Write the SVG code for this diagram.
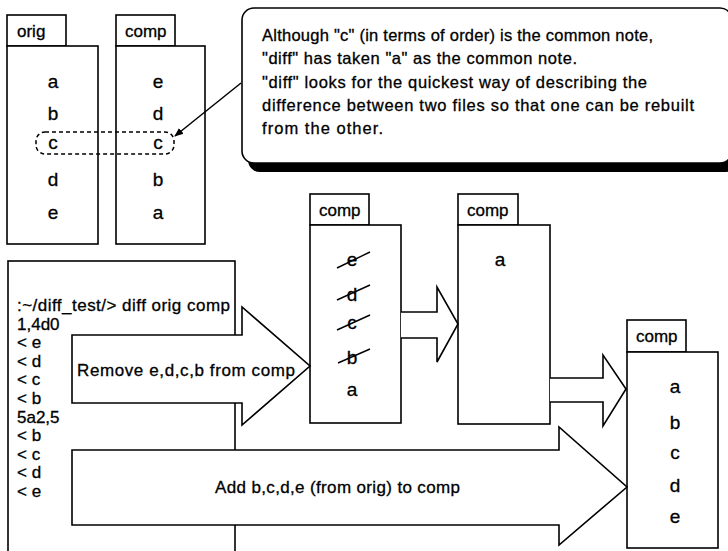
<svg xmlns="http://www.w3.org/2000/svg" width="728" height="551" viewBox="0 0 728 551">
<style>
.box{fill:#fff;stroke:#000;stroke-width:1.6}
.t{font-family:"Liberation Sans",Arial,sans-serif;fill:#000;stroke:#000;stroke-width:0.3}
.tab{font-size:17px}
.let{font-size:19px;text-anchor:middle}
.txt{font-size:17px}
.co{font-size:16.5px}
.strike{stroke:#000;stroke-width:1.4;fill:none}
.arr{fill:#fff;stroke:#000;stroke-width:1.6;stroke-linejoin:miter}
</style>
<defs>
<marker id="ah" viewBox="0 0 10 10" refX="9" refY="5" markerWidth="9" markerHeight="9" orient="auto" markerUnits="userSpaceOnUse">
<path d="M0,1 L10,5 L0,9 z" fill="#000"/>
</marker>
</defs>
<rect width="728" height="551" fill="#fff"/>

<g id="orig">
<rect class="box" x="7" y="15" width="59" height="31"/>
<rect class="box" x="7" y="46" width="91" height="198"/>
<text class="t tab" x="17" y="37">orig</text>
<text class="t let" x="53" y="88">a</text>
<text class="t let" x="53" y="120">b</text>
<text class="t let" x="53" y="149">c</text>
<text class="t let" x="53" y="186">d</text>
<text class="t let" x="53" y="219">e</text>
</g>

<g id="comp1">
<rect class="box" x="116" y="15" width="59" height="31"/>
<rect class="box" x="116" y="46" width="89" height="198"/>
<text class="t tab" x="125" y="37">comp</text>
<text class="t let" x="158" y="88">e</text>
<text class="t let" x="158" y="120">d</text>
<text class="t let" x="158" y="149">c</text>
<text class="t let" x="158" y="186">b</text>
<text class="t let" x="158" y="219">a</text>
</g>

<g id="common-c">
<rect x="36" y="132" width="138" height="22" rx="9" fill="none" stroke="#000" stroke-width="1.5" stroke-dasharray="4,3"/>
</g>

<g id="callout">
<rect x="248" y="16" width="490" height="156" rx="12" fill="#000"/>
<rect class="box" x="242" y="8" width="490" height="155" rx="12"/>
<text class="t co" x="262" y="41" textLength="391" lengthAdjust="spacing">Although "c" (in terms of order) is the common note,</text>
<text class="t co" x="262" y="64" textLength="315" lengthAdjust="spacing">"diff" has taken "a" as the common note.</text>
<text class="t co" x="262" y="88" textLength="385" lengthAdjust="spacing">"diff" looks for the quickest way of describing the</text>
<text class="t co" x="262" y="111" textLength="432" lengthAdjust="spacing">difference between two files so that one can be rebuilt</text>
<text class="t co" x="262" y="134" textLength="121" lengthAdjust="spacing">from the other.</text>
</g>

<g id="terminal">
<rect class="box" x="8" y="261" width="227" height="300"/>
<text class="t txt" x="17" y="311" textLength="213" lengthAdjust="spacing">:~/diff_test/&gt; diff orig comp</text>
<text class="t txt" x="17" y="329.6">1,4d0</text>
<text class="t txt" x="17" y="348.2">&lt; e</text>
<text class="t txt" x="17" y="366.8">&lt; d</text>
<text class="t txt" x="17" y="385.4">&lt; c</text>
<text class="t txt" x="17" y="404">&lt; b</text>
<text class="t txt" x="17" y="422.6">5a2,5</text>
<text class="t txt" x="17" y="441.2">&lt; b</text>
<text class="t txt" x="17" y="459.8">&lt; c</text>
<text class="t txt" x="17" y="478.4">&lt; d</text>
<text class="t txt" x="17" y="497">&lt; e</text>
</g>

<g id="comp2">
<rect class="box" x="310" y="194" width="59" height="31"/>
<rect class="box" x="310" y="225" width="91" height="198"/>
<text class="t tab" x="319" y="216">comp</text>
<text class="t let" x="352" y="266">e</text>
<text class="t let" x="352" y="301">d</text>
<text class="t let" x="352" y="329">c</text>
<text class="t let" x="352" y="364">b</text>
<text class="t let" x="352" y="396">a</text>
<line class="strike" x1="337" y1="268" x2="370" y2="252"/>
<line class="strike" x1="337" y1="300" x2="370" y2="285"/>
<line class="strike" x1="337" y1="330" x2="370" y2="315"/>
<line class="strike" x1="338" y1="363" x2="370" y2="349"/>
</g>

<g id="comp3">
<rect class="box" x="458" y="194" width="60" height="31"/>
<rect class="box" x="458" y="225" width="92" height="199"/>
<text class="t tab" x="467" y="216">comp</text>
<text class="t let" x="500" y="266">a</text>
</g>

<g id="comp4">
<rect class="box" x="627" y="320" width="59" height="32"/>
<rect class="box" x="627" y="352" width="91" height="196"/>
<text class="t tab" x="636" y="342">comp</text>
<text class="t let" x="675" y="393">a</text>
<text class="t let" x="675" y="429">b</text>
<text class="t let" x="675" y="459">c</text>
<text class="t let" x="675" y="492">d</text>
<text class="t let" x="675" y="523">e</text>
</g>

<g id="connectors">
<line x1="241" y1="83" x2="175" y2="136" stroke="#000" stroke-width="1.5" marker-end="url(#ah)"/>
<polygon class="arr" points="72,335 242,335 242,307 310,366 242,425 242,403 72,403"/>
<text class="t txt" x="77" y="376" textLength="218" lengthAdjust="spacing">Remove e,d,c,b from comp</text>
<polygon class="arr" points="72,450 559,450 559,427 627,487 559,545 559,525 72,525"/>
<text class="t txt" x="215" y="493" textLength="245" lengthAdjust="spacing">Add b,c,d,e (from orig) to comp</text>
<polyline class="arr" points="401,312 437,312 437,287 458,324 437,362 437,338 401,338"/>
<polyline class="arr" points="550,378 603,378 603,355 626,389 603,426 603,402 550,402"/>
</g>
</svg>
